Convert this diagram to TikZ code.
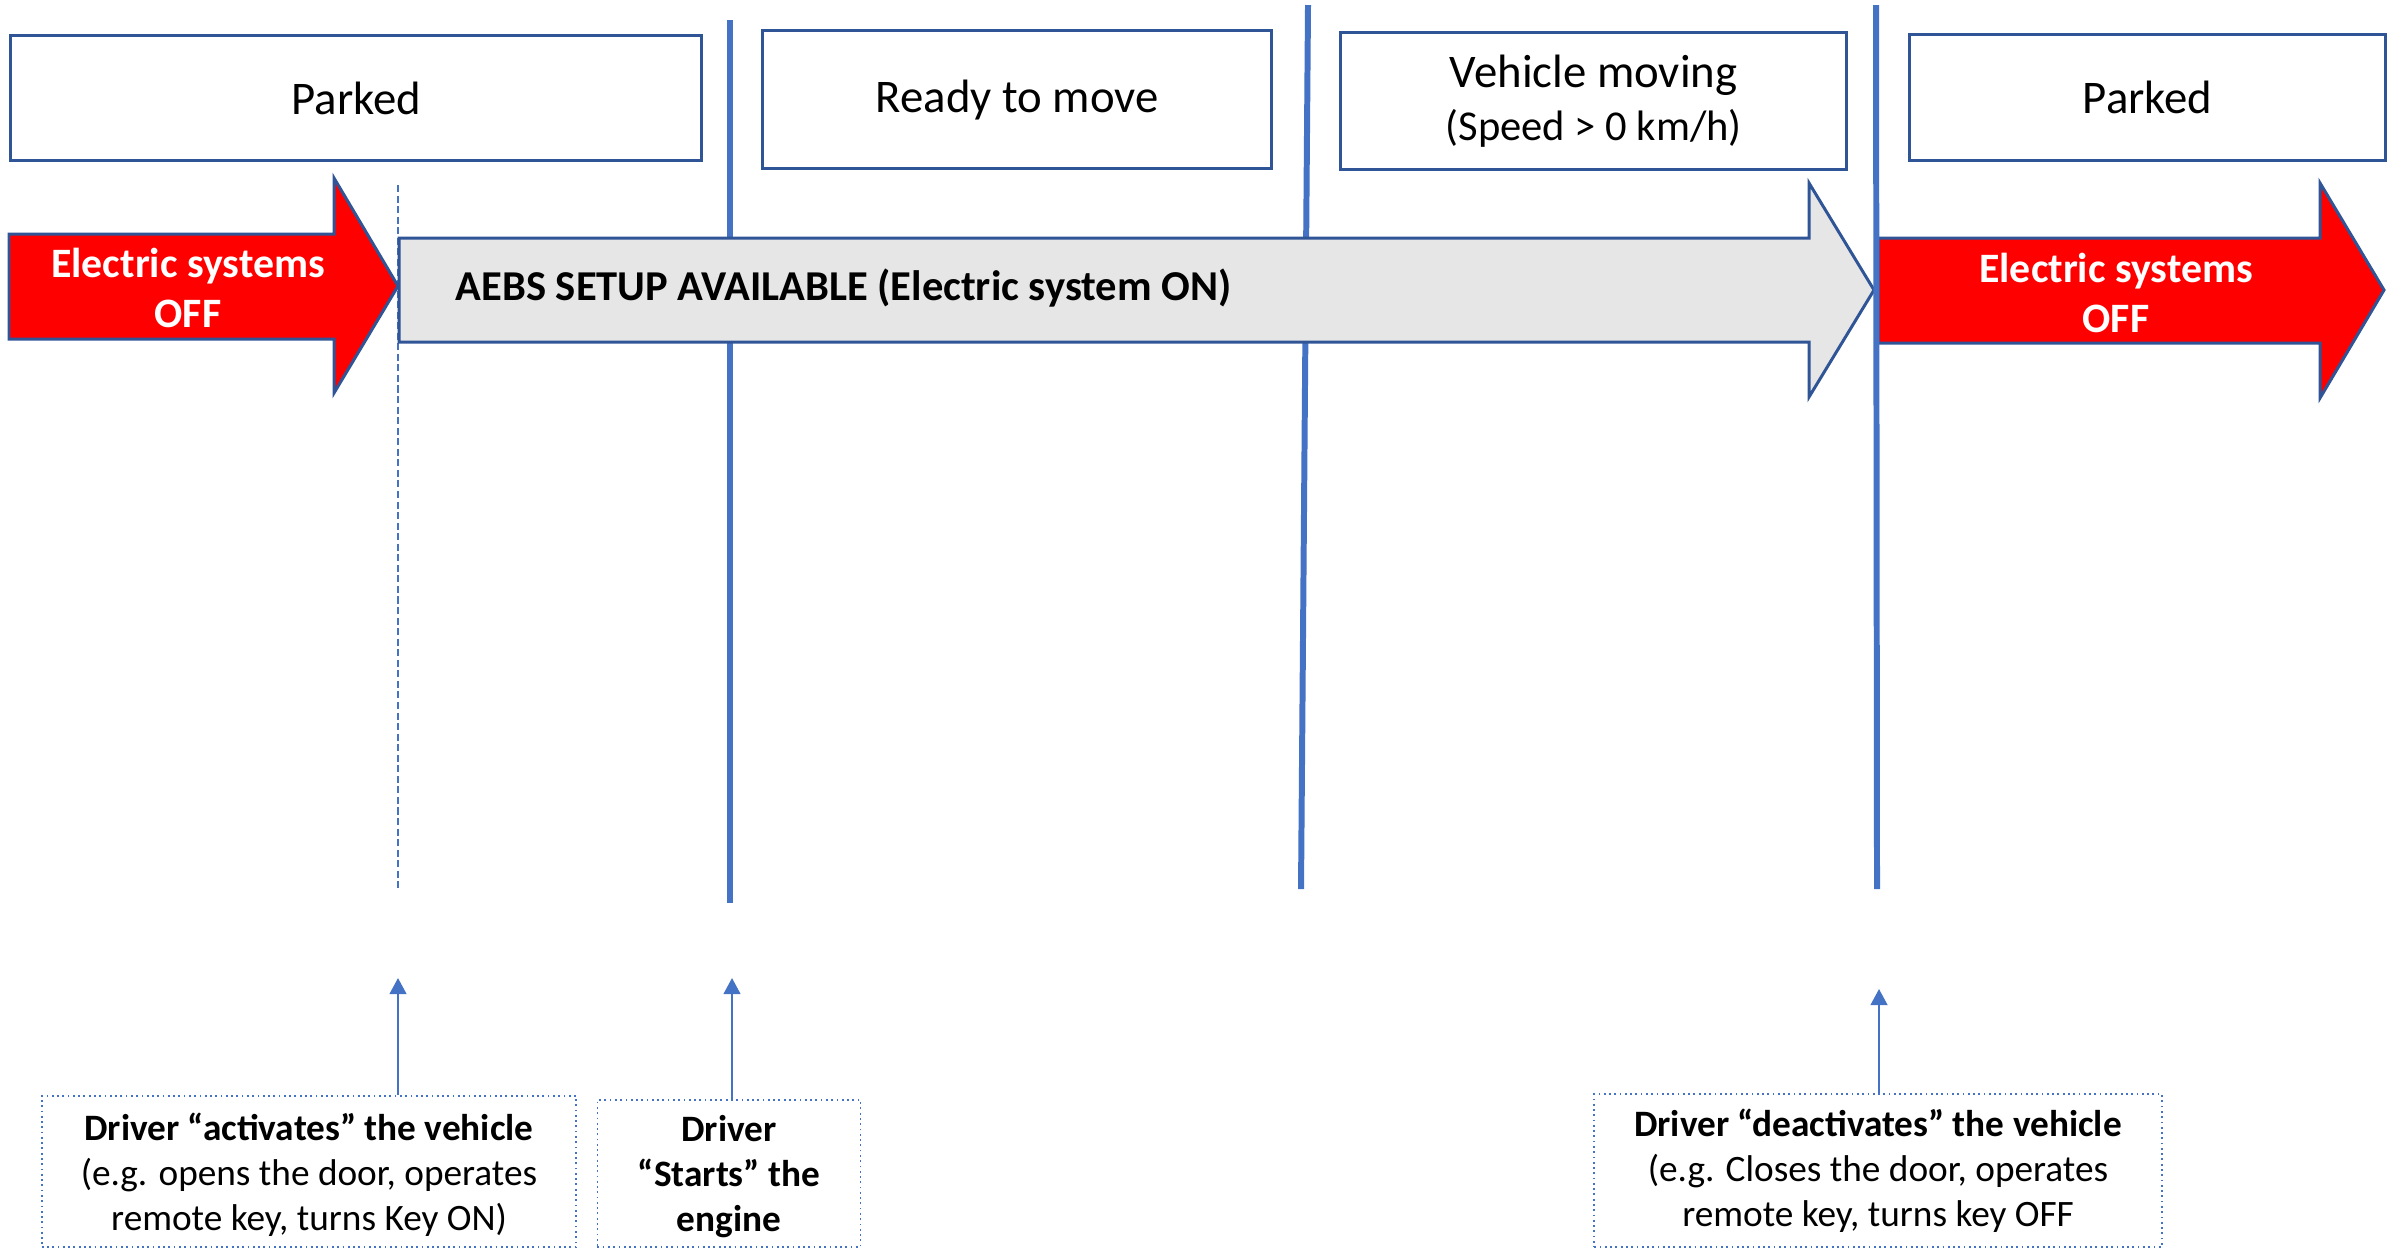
\documentclass[tikz,border=0pt]{standalone}
\usepackage{fontspec}
\setmainfont{Carlito}
\usetikzlibrary{arrows.meta}
\definecolor{lineblue}{HTML}{4472C4}
\definecolor{boxblue}{HTML}{2F5597}
\definecolor{grayfill}{HTML}{E6E6E6}
\definecolor{offred}{HTML}{FF0000}
\begin{document}
\begin{tikzpicture}[x=0.01cm,y=-0.01cm,
  stagebox/.style={draw=boxblue, line width=0.85pt, fill=white, inner sep=0pt, align=center, anchor=north west,
    font=\fontsize{13.3}{15.7}\selectfont},
  phaseline/.style={draw=lineblue, line width=1.7pt},
  onsetline/.style={draw=lineblue, line width=0.35pt, dash pattern=on 2pt off 1pt},
  bigarrow/.style={draw=boxblue, line width=0.85pt, line join=miter},
  offtext/.style={text=white, font=\fontsize{11.9}{14.2}\selectfont\bfseries, align=center, inner sep=0pt},
  evbox/.style={draw=lineblue, line width=0.5pt, densely dotted, align=center, anchor=north, inner sep=0pt,
    font=\fontsize{10.6}{12.8}\selectfont},
  evarrow/.style={draw=lineblue, line width=0.6pt, -{Triangle[length=4.6pt,width=4.8pt]}}
]
\useasboundingbox (0,0) rectangle (2395,1250);

% phase boundaries
\coordinate (l0t) at (398,185); \coordinate (l0b) at (398,890);
\coordinate (l1t) at (730,20);  \coordinate (l1b) at (730,903);
\coordinate (l2t) at (1308,5);  \coordinate (l2b) at (1301,889);
\coordinate (l3t) at (1876,5);  \coordinate (l3b) at (1877,889);
\draw[onsetline] (l0t) -- (l0b);
\draw[phaseline] (l1t) -- (l1b);
\draw[phaseline] (l2t) -- (l2b);

% stage boxes
\node[stagebox, minimum width=6.91cm, minimum height=1.25cm] (park1) at (9,34) {Parked};
\node[stagebox, minimum width=5.09cm, minimum height=1.38cm] (ready) at (761,29) {Ready to move};
\node[stagebox, minimum width=5.06cm, minimum height=1.37cm] (moving) at (1339,31)
  {Vehicle moving\\[-0.5pt]{\fontsize{12.1}{14}\selectfont (Speed > 0 km/h)}};
\node[stagebox, minimum width=4.76cm, minimum height=1.26cm] (park2) at (1908,33) {Parked};

% big arrows
\draw[bigarrow, fill=offred] (9,234) -- (334,234) -- (334,178) -- (398,286) -- (334,393) -- (334,339) -- (9,339) -- cycle;
\draw[bigarrow, fill=grayfill] (399,238) -- (1809,238) -- (1809,183) -- (1874,290) -- (1809,397) -- (1809,342) -- (399,342) -- cycle;
\draw[bigarrow, fill=offred] (1878,238) -- (2320,238) -- (2320,183) -- (2384,290) -- (2320,398) -- (2320,343) -- (1878,343) -- cycle;
\draw[phaseline] (l3t) -- (l3b);

\node[offtext] (off1) at (188,288) {Electric systems\\OFF};
\node[offtext] (off2) at (2116,293) {Electric systems\\OFF};
\node[anchor=west, inner sep=0pt, font=\fontsize{12.1}{14}\selectfont\bfseries] (aebs) at (455,288)
  {AEBS SETUP AVAILABLE (Electric system ON)};

% driver events
\node[evbox, minimum width=5.34cm, minimum height=1.51cm, text depth=0pt] (ev1) at (309,1095)
  {\textbf{Driver “activates” the vehicle}\\(e.g. opens the door, operates\\remote key, turns Key ON)};
\node[evbox, minimum width=2.63cm, minimum height=1.47cm, text depth=0pt] (ev2) at (729,1099)
  {\textbf{Driver}\\\textbf{“Starts” the}\\\textbf{engine}};
\node[evbox, minimum width=5.67cm, minimum height=1.53cm] (ev3) at (1878,1093)
  {\textbf{Driver “deactivates” the vehicle}\\(e.g. Closes the door, operates\\remote key, turns key OFF};

\coordinate (a1) at (398,978);
\coordinate (a2) at (732,978);
\coordinate (a3) at (1879,989);
\draw[evarrow] (a1 |- ev1.north) -- (a1);
\draw[evarrow] (a2 |- ev2.north) -- (a2);
\draw[evarrow] (a3 |- ev3.north) -- (a3);
\end{tikzpicture}
\end{document}
